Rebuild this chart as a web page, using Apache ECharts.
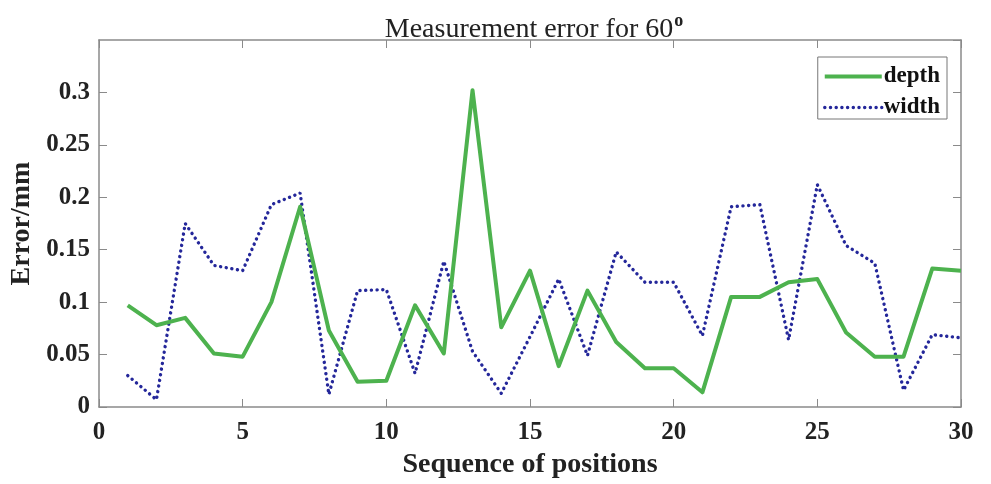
<!DOCTYPE html>
<html>
<head>
<meta charset="utf-8">
<style>
  html, body { margin: 0; padding: 0; background: #fff; }
  #chart { width: 991px; height: 484px; }
</style>
<script src="https://cdn.jsdelivr.net/npm/echarts@6/dist/echarts.min.js"></script>
</head>
<body>
<div id="chart"></div>
<script>
// Measurement positions 1..30
const positions = [1, 2, 3, 4, 5, 6, 7, 8, 9, 10, 11, 12, 13, 14, 15,
                   16, 17, 18, 19, 20, 21, 22, 23, 24, 25, 26, 27, 28, 29, 30];

// Depth error (mm)
const depthError = [0.097, 0.078, 0.085, 0.051, 0.048, 0.100, 0.191, 0.073, 0.024, 0.025,
                    0.097, 0.051, 0.302, 0.076, 0.130, 0.039, 0.111, 0.062, 0.037, 0.037,
                    0.014, 0.105, 0.105, 0.119, 0.122, 0.071, 0.048, 0.048, 0.132, 0.130];

// Width error (mm)
const widthError = [0.030, 0.007, 0.175, 0.135, 0.130, 0.193, 0.204, 0.012, 0.111, 0.112,
                    0.032, 0.139, 0.053, 0.013, 0.067, 0.122, 0.049, 0.148, 0.119, 0.119,
                    0.068, 0.191, 0.193, 0.064, 0.212, 0.154, 0.137, 0.016, 0.069, 0.066];

const xTicks = [0, 5, 10, 15, 20, 25, 30];
const yTicks = [0, 0.05, 0.1, 0.15, 0.2, 0.25, 0.3];

const serif = '"Liberation Serif", "Times New Roman", serif';
const axisGray = '#8a8a8a';
const depthColor = '#4db24e';
const widthColor = '#24279a';
const dotPattern = [0.1, 5.6];

const chart = echarts.init(document.getElementById('chart'));

const pairs = arr => positions.map((p, i) => [p, arr[i]]);

// box-style axis frame: inward ticks on all four sides
const frameLine = { show: true, onZero: false, lineStyle: { color: axisGray, width: 1.5 } };
const frameTick = { show: true, inside: true, length: 8, lineStyle: { color: axisGray } };

chart.setOption({
  backgroundColor: '#fff',
  animation: false,
  title: {
    text: '{t|Measurement error for 60}{s|o}',
    left: 529,
    textAlign: 'center',
    top: 7,
    textStyle: {
      rich: {
        t: { fontFamily: serif, fontSize: 28, color: '#222', fontWeight: 'normal' },
        s: { fontFamily: serif, fontSize: 18, color: '#222', verticalAlign: 'top', padding: [0, 0, 18, 1] }
      }
    }
  },
  legend: {
    right: 44,
    top: 57,
    orient: 'vertical',
    itemWidth: 57,
    itemHeight: 16,
    itemGap: 8,
    padding: [8, 7, 0, 5],
    borderColor: '#777',
    borderWidth: 1,
    backgroundColor: '#fff',
    itemStyle: { opacity: 0 },
    textStyle: { fontFamily: serif, fontSize: 23, fontWeight: 'bold', color: '#111', padding: [0, 0, 0, -3] },
    data: [
      { name: 'depth', itemStyle: { opacity: 0 }, lineStyle: { width: 4, color: depthColor } },
      { name: 'width', itemStyle: { opacity: 0 }, lineStyle: { width: 3.4, color: widthColor, type: dotPattern, cap: 'round' } }
    ]
  },
  grid: { left: 99, top: 40, right: 30, bottom: 77, containLabel: false, outerBoundsMode: 'none' },
  xAxis: [
    {
      type: 'value',
      min: 0, max: 30, interval: 5,
      name: 'Sequence of positions',
      nameLocation: 'middle',
      nameGap: 44,
      nameTextStyle: { fontFamily: serif, fontSize: 28, fontWeight: 'bold', color: '#222' },
      axisLine: frameLine,
      axisTick: frameTick,
      axisLabel: {
        fontFamily: serif, fontSize: 25, fontWeight: 'bold', color: '#222', margin: 13,
        formatter: v => (xTicks.includes(v) ? String(v) : '')
      },
      splitLine: { show: false }
    },
    {
      type: 'value',
      position: 'top',
      min: 0, max: 30, interval: 5,
      axisLine: frameLine,
      axisTick: frameTick,
      axisLabel: { show: false },
      splitLine: { show: false }
    }
  ],
  yAxis: [
    {
      type: 'value',
      min: 0, max: 0.35, interval: 0.05,
      name: 'Error/mm',
      nameLocation: 'middle',
      nameGap: 60,
      nameTextStyle: { fontFamily: serif, fontSize: 28, fontWeight: 'bold', color: '#222' },
      axisLine: frameLine,
      axisTick: frameTick,
      axisLabel: {
        fontFamily: serif, fontSize: 25, fontWeight: 'bold', color: '#222', margin: 9,
        showMaxLabel: false,
        formatter: v => {
          const r = Math.round(v * 100) / 100;
          return yTicks.some(t => Math.abs(t - r) < 1e-9) ? String(r) : '';
        }
      },
      splitLine: { show: false }
    },
    {
      type: 'value',
      position: 'right',
      min: 0, max: 0.35, interval: 0.05,
      axisLine: frameLine,
      axisTick: frameTick,
      axisLabel: { show: false },
      splitLine: { show: false }
    }
  ],
  series: [
    {
      name: 'depth',
      type: 'line',
      data: pairs(depthError),
      symbol: 'none',
      color: depthColor,
      lineStyle: { color: depthColor, width: 4, join: 'round' },
      z: 3
    },
    {
      name: 'width',
      type: 'line',
      data: pairs(widthError),
      symbol: 'none',
      color: widthColor,
      lineStyle: { color: widthColor, width: 3.4, type: dotPattern, cap: 'round' },
      z: 2
    }
  ]
});
</script>
</body>
</html>
